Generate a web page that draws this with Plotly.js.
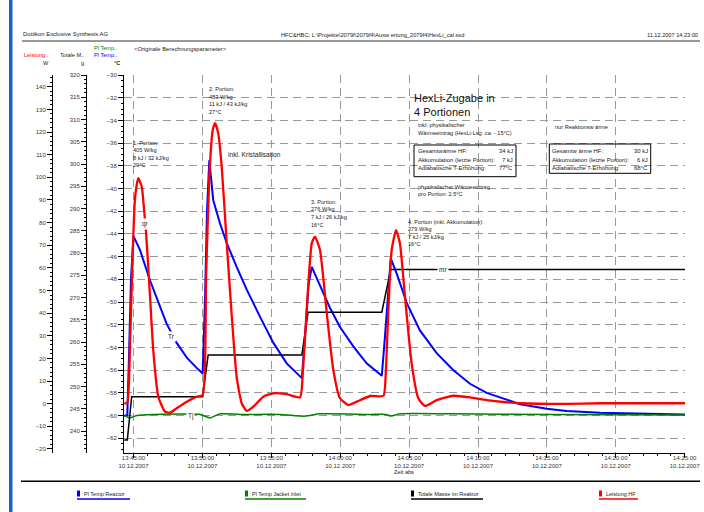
<!DOCTYPE html>
<html><head><meta charset="utf-8">
<script src="https://cdn.plot.ly/plotly-3.0.1.min.js"></script>
<style>html,body{margin:0;padding:0;background:#fff;}</style>
</head><body><div id="chart" style="width:704px;height:512px;"></div>
<script>
const DAY = '2007-12-10';

// Pl Temp Reactor (°C)
const trTime = ['13:44:20','13:44:33','13:44:40','13:44:49','13:45:00','13:45:28','13:46:12','13:46:55','13:47:24','13:48:08','13:48:52','13:49:35','13:50:01','13:50:11','13:50:20','13:50:30','13:50:47','13:51:17','13:51:46','13:52:29','13:53:13','13:54:11','13:55:09','13:56:07','13:57:13','13:57:27','13:57:42','13:57:56','13:58:32','13:59:15','13:59:59','14:00:57','14:01:55','14:03:01','14:03:15','14:03:28','14:03:40','14:04:06','14:04:50','14:05:47','14:07:00','14:08:13','14:09:25','14:10:38','14:11:50','14:13:03','14:14:59','14:16:26','14:18:51','14:21:15','14:25:01'];
const trTemp = [-60.0,-60.0,-55,-48,-44.2,-45.4,-48.1,-50.4,-51.9,-53.6,-54.9,-55.8,-56.3,-50,-42,-37.5,-41.0,-43.1,-44.8,-46.9,-48.9,-51.3,-53.6,-55.4,-56.7,-53,-48.5,-46.9,-48.6,-50.5,-52.2,-53.9,-55.4,-56.5,-53,-49,-46.15,-47.5,-50.1,-52.5,-54.5,-56.0,-57.2,-58.0,-58.5,-59.0,-59.4,-59.6,-59.75,-59.8,-59.9];

// Pl Temp Jacket inlet (°C)
const tjTime = ['13:44:20','13:44:45','13:45:15','13:46:25','13:49:50','13:50:03','13:50:33','13:51:17','13:52:44','13:55:38','13:57:27','13:58:32','14:02:10','14:03:19','14:03:41','14:04:20','14:07:58','14:15:13','14:25:01'];
const tjTemp = [-60.0,-60.2,-60.0,-59.9,-59.9,-60.0,-60.2,-59.85,-59.9,-59.9,-60.05,-59.85,-59.9,-59.9,-60.05,-59.85,-59.85,-59.9,-59.95];

// Totale Masse im Reaktor (g)
const msTime = ['13:44:20','13:44:33','13:44:52','13:50:01','13:50:25','13:57:13','13:57:40','14:03:01','14:03:40','14:25:01'];
const msMass = [238.0,238.0,247.7,247.7,257.1,257.1,266.7,266.7,276.3,276.3];

// Leistung HF (W)
const lsTime = ['13:44:20','13:44:33','13:44:45','13:44:56','13:45:07','13:45:21','13:45:36','13:45:46','13:45:54','13:46:12','13:46:26','13:46:48','13:47:17','13:47:39','13:48:08','13:48:52','13:49:35','13:50:01','13:50:16','13:50:30','13:50:45','13:50:55','13:51:09','13:51:24','13:51:46','13:52:08','13:52:29','13:52:51','13:53:13','13:53:42','13:54:25','13:55:09','13:56:07','13:57:05','13:57:18','13:57:34','13:57:56','13:58:10','13:58:32','13:59:01','13:59:30','13:59:59','14:00:35','14:01:12','14:02:10','14:03:08','14:03:19','14:03:29','14:03:44','14:04:03','14:04:20','14:04:42','14:05:11','14:05:40','14:06:09','14:07:00','14:08:13','14:09:25','14:10:38','14:11:50','14:13:03','14:16:26','14:18:51','14:25:01'];
const lsPower = [0,0.5,26.7,65,91.4,99.6,95.8,85.6,76.7,47.3,23.7,3.1,-3.5,-4.0,-2.0,0.9,3.1,3.8,56.1,100.3,120.9,123.9,119.4,104.7,70.8,38.4,11.9,0.2,-3.2,-1.3,3.1,4.6,4.2,2.8,15,41.4,70.8,73.8,67.9,40.5,14.9,2.4,-0.6,0.9,3.4,3.5,15,39.9,67.9,76.7,70.8,47.3,17.8,2.4,-1.0,1.6,3.5,2.8,1.6,0.75,0.2,-0.1,0.2,0.2];

// x tick labels
const tickTimes = ['13:45:00','13:50:00','13:55:00','14:00:00','14:05:00','14:10:00','14:15:00','14:20:00','14:25:00'];
const tickDate = '10.12.2007';

const F = 'Liberation Sans, Arial, sans-serif';
const ML = 40, MR = 19, MT = 75, MB = 59, PW = 704 - ML - MR, PH = 512 - MT - MB;
const px = x => (x - ML) / PW;
const py = y => (512 - MB - y) / PH;
const T = t => DAY + ' ' + t;

const traces = [
  {x: trTime.map(T), y: trTemp, yaxis: 'y', mode: 'lines', line: {color: '#0000ff', width: 2}, name: 'Pl Temp Reactor'},
  {x: tjTime.map(T), y: tjTemp, yaxis: 'y', mode: 'lines', line: {color: '#008000', width: 1.5, shape: 'spline', smoothing: 0.6}, name: 'Pl Temp Jacket inlet'},
  {x: msTime.map(T), y: msMass, yaxis: 'y2', mode: 'lines', line: {color: '#000000', width: 1.5}, name: 'Totale Masse im Reaktor'},
  {x: lsTime.map(T), y: lsPower, yaxis: 'y3', mode: 'lines', line: {color: '#ff0000', width: 2.3, shape: 'spline', smoothing: 0.5}, name: 'Leistung HF'}
];

const ann = [];
function txt(x, y, text, o) {
  o = o || {};
  ann.push({xref: 'paper', yref: 'paper', x: px(x), y: py(y), text: text, showarrow: false,
    xanchor: o.xa || 'left', yanchor: 'middle', borderpad: 0,
    font: {family: F, size: o.size || 5.6, color: o.color || '#222'}});
}
function lines(x, yTop, arr, step, o) { arr.forEach((s, i) => txt(x, yTop + i * step, s, o)); }

// header
txt(22, 34, 'Dottikon Exclusive Synthesis AG', {size: 5.9});
txt(280, 35, 'HFC&amp;HBC: L:\\Projekte\\2079f\\2079f4\\Ausw ertung_2079f4\\HexLi_cal.ssd', {size: 5.7});
txt(699, 35, '11.12.2007 14:23:00', {size: 5.6, xa: 'right'});
txt(93, 48, 'Pl Temp..', {color: '#008000'});
txt(133, 49, '&lt;Originale Berechnungsparameter&gt;', {size: 5.8});
txt(22.5, 55, 'Leistung..', {color: '#ff0000'});
txt(59, 55, 'Totale M..');
txt(93, 55, 'Pl Temp..', {color: '#0000ff'});
txt(46, 63, 'W', {xa: 'center'});
txt(82, 63, 'g', {xa: 'center'});
txt(117, 63, '<b>°C</b>', {xa: 'center'});

// chart notes
lines(132, 142.5, ['1. Portion:', '405 W/kg', '8 kJ / 32 kJ/kg', '20°C'], 7.6);
lines(208, 89, ['2. Portion:', '483 W/kg', '11 kJ / 43 kJ/kg', '27°C'], 7.6);
txt(226.7, 154.3, 'inkl. Kristallisation', {size: 6.6});
lines(310, 201.7, ['3. Portion:', '276 W/kg', '7 kJ / 26 kJ/kg', '16°C'], 7.6);
lines(406.7, 221.7, ['4. Portion (inkl. Akkumulation):', '279 W/kg', '7 kJ / 25 kJ/kg', '16°C'], 7.4);
lines(413, 98.3, ['HexLi-Zugabe in', '4 Portionen'], 13.4, {size: 11, color: '#111'});
lines(416.7, 125, ['inkl. physikalischer', 'Wärmeeintrag (HexLi-Lsg: ca. - 15°C)'], 7.7);
lines(416.5, 151, ['Gesamtwärme HF:', 'Akkumulation (letzte Portion):', 'Adiabatische T-Erhöhung:'], 8.5, {size: 5.9});
lines(514, 151, ['34 kJ', '7 kJ', '77°C'], 8.5, {xa: 'right', size: 5.9});
lines(416.7, 186.7, ['physikalischer Wärmeeintrag', 'pro Portion: 2.5°C'], 7.5);
txt(554, 126.7, 'nur Reaktionsw ärme');
lines(551, 151, ['Gesamtw ärme HF:', 'Akkumulation (letzte Portion):', 'Adiabatische T-Erhöhung:'], 8.5, {size: 5.9});
lines(648.5, 151, ['30 kJ', '6 kJ', '68°C'], 8.5, {xa: 'right', size: 5.9});
txt(404, 472, 'Zeit abs', {xa: 'center'});

// curve labels
function clab(xt, yv, yref, text) {
  ann.push({xref: 'x', yref: yref, x: T(xt), y: yv, text: text, showarrow: false, bgcolor: '#ffffff',
    xanchor: 'center', yanchor: 'middle', borderpad: 1, font: {family: F, size: 6.5, color: '#222'}});
}
clab('13:45:54', 79.4, 'y3', 'qr');
clab('13:47:47', -53.0, 'y', 'Tr');
clab('13:49:06', -60.0, 'y', 'Tj');
clab('14:07:28', 276.3, 'y2', 'mr');

// shapes
const shapes = [];
function rect(x0, y0, x1, y1, o) {
  shapes.push(Object.assign({type: 'rect', xref: 'paper', yref: 'paper', x0: px(x0), x1: px(x1), y0: py(y0), y1: py(y1),
    line: {color: '#000', width: 1}, fillcolor: 'rgba(0,0,0,0)', layer: 'above'}, o || {}));
}
function hline(x0, x1, y, color, w) {
  shapes.push({type: 'line', xref: 'paper', yref: 'paper', x0: px(x0), x1: px(x1), y0: py(y), y1: py(y), line: {color: color, width: w}});
}
rect(9, 0, 12.5, 512, {line: {width: 0}, fillcolor: '#1a62c4'});
hline(22, 700, 41, '#333', 1);
hline(21, 700, 481.3, '#000', 1.5);
rect(414, 145, 516, 176.7);
rect(549.3, 144, 650.7, 173.3);

// legend
const legItems = [
  {x: 77, end: 130, color: '#0000ff', label: 'Pl Temp Reactor'},
  {x: 245, end: 306, color: '#008000', label: 'Pl Temp Jacket inlet'},
  {x: 411, end: 483, color: '#000000', label: 'Totale Masse im Reaktor'},
  {x: 599, end: 638, color: '#ff0000', label: 'Leistung HF'}
];
legItems.forEach(it => {
  rect(it.x, 490.5, it.x + 3, 496.5, {line: {width: 0}, fillcolor: it.color});
  hline(it.x, it.end, 499, it.color, 1.5);
  txt(it.x + 6, 494, it.label, {size: 5.5});
});

const axFont = {family: F, size: 6, color: '#333'};
const layout = {
  width: 704, height: 512,
  margin: {l: ML, r: MR, t: MT, b: MB, pad: 0},
  paper_bgcolor: '#fff', plot_bgcolor: '#fff',
  showlegend: false,
  font: {family: F},
  xaxis: {
    type: 'date', domain: [px(124), 1],
    range: [T('13:44:18.6'), T('14:25:01.2')],
    tickmode: 'array', tickvals: tickTimes.map(T), ticktext: tickTimes.map(t => t + '<br>' + tickDate),
    tickfont: axFont, ticks: 'outside', ticklen: 4, tickcolor: '#000', ticklabelstandoff: -5,
    showline: true, linecolor: '#000', linewidth: 1,
    showgrid: true, gridcolor: '#999999', griddash: '8px,5px', gridwidth: 1,
    minor: {tickmode: 'linear', tick0: T('13:45:00'), dtick: 60000, ticklen: 2, tickcolor: '#000', showgrid: false},
    zeroline: false
  },
  yaxis: {
    anchor: 'x', range: [-63.3, -29.99], tickmode: 'linear', tick0: -30, dtick: 2,
    tickfont: axFont, ticks: 'outside', ticklen: 5, tickcolor: '#000',
    showline: true, linecolor: '#000', linewidth: 1,
    showgrid: true, gridcolor: '#999999', griddash: '8px,5px', gridwidth: 1,
    minor: {dtick: 0.5, ticklen: 2.5, tickcolor: '#000', showgrid: false},
    zeroline: false
  },
  yaxis2: {
    overlaying: 'y', anchor: 'free', position: px(86), side: 'left',
    range: [235.07, 320.01], tickmode: 'linear', tick0: 235, dtick: 5,
    tickfont: axFont, ticks: 'outside', ticklen: 5, tickcolor: '#000',
    showline: true, linecolor: '#000', linewidth: 1, showgrid: false, zeroline: false,
    minor: {dtick: 1, ticklen: 2.5, tickcolor: '#000', showgrid: false}
  },
  yaxis3: {
    overlaying: 'y', anchor: 'free', position: px(52), side: 'left',
    range: [-21.78, 145.2], tickmode: 'linear', tick0: 0, dtick: 10,
    tickfont: axFont, ticks: 'outside', ticklen: 5, tickcolor: '#000',
    showline: true, linecolor: '#000', linewidth: 1, showgrid: false, zeroline: false,
    minor: {dtick: 2, ticklen: 2.5, tickcolor: '#000', showgrid: false}
  },
  annotations: ann,
  shapes: shapes
};

Plotly.newPlot('chart', traces, layout, {displayModeBar: false, staticPlot: true});
</script>
</body></html>
